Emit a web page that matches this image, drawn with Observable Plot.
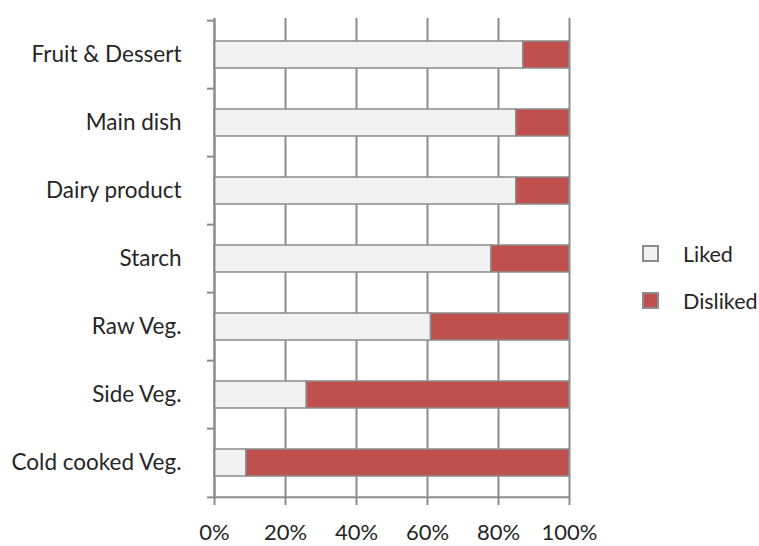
<!DOCTYPE html>
<html>
<head>
<meta charset="utf-8">
<script src="https://cdn.jsdelivr.net/npm/d3@7"></script>
<script src="https://cdn.jsdelivr.net/npm/@observablehq/plot@0.6"></script>
<style>
  html, body { margin: 0; padding: 0; background: #fff; }
  #wrap { position: relative; width: 759px; height: 546px; font-family: Lato, "Open Sans", sans-serif; }
  #legend { position: absolute; left: 642px; top: 230px; color: #262626; font-size: 21.5px; }
  .item { display: flex; align-items: center; height: 47px; }
  .sw { width: 13px; height: 13px; border: 2px solid #8c8c8c; box-sizing: content-box; margin-right: 24px; }
</style>
</head>
<body>
<div id="wrap"><div id="legend"></div></div>
<script>
const categories = ["Fruit & Dessert", "Main dish", "Dairy product", "Starch", "Raw Veg.", "Side Veg.", "Cold cooked Veg."];
const liked = [87, 85, 85, 78, 61, 26, 9];
const disliked = liked.map(v => 100 - v);
const seriesNames = ["Liked", "Disliked"];
const seriesColors = ["#f2f2f2", "#c0504d"];
const xTicks = [0, 20, 40, 60, 80, 100];

const data = [];
categories.forEach((c, i) => {
  data.push({category: c, series: "Liked", value: liked[i]});
  data.push({category: c, series: "Disliked", value: disliked[i]});
});

const W = 759, H = 546, mt = 18, mb = 47, ml = 214, mr = 190;
const step = (H - mt - mb) / categories.length;
const gray = "#8c8c8c";
const font = "Lato, 'Open Sans', sans-serif";

const chart = Plot.plot({
  width: W, height: H,
  marginTop: mt, marginBottom: mb, marginLeft: ml, marginRight: mr,
  style: {fontFamily: font, color: "#262626", background: "#fff", overflow: "visible"},
  x: {domain: [0, 100]},
  y: {domain: categories, paddingInner: 0.6, paddingOuter: 0.3},
  color: {domain: seriesNames, range: seriesColors},
  marks: [
    Plot.gridX(xTicks, {stroke: gray, strokeOpacity: 1, strokeWidth: 2}),
    Plot.ruleY([categories[categories.length - 1]], {stroke: gray, strokeWidth: 2, dy: step / 2, x1: 0, x2: 100}),
    Plot.axisX(xTicks, {tickSize: 6, stroke: gray, strokeWidth: 2, tickFormat: d => d + "%", fontSize: 22, tickPadding: 19, fill: "#262626", label: null}),
    Plot.axisY(categories, {tickSize: 7, stroke: gray, strokeWidth: 2, tickFormat: () => "", dy: -step / 2, label: null}),
    Plot.axisY([categories[categories.length - 1]], {tickSize: 7, stroke: gray, strokeWidth: 2, tickFormat: () => "", dy: step / 2, label: null}),
    Plot.axisY(categories, {tickSize: 0, tickPadding: 33, fontSize: 22.5, fill: "#262626", label: null}),
    Plot.barX(data, Plot.stackX({x: "value", y: "category", fill: "series", order: seriesNames, stroke: gray, strokeWidth: 1.5})),
    Plot.ruleX([0], {stroke: gray, strokeWidth: 2})
  ]
});
document.getElementById("wrap").prepend(chart);

const legend = document.getElementById("legend");
seriesNames.forEach((s, i) => {
  const it = document.createElement("div");
  it.className = "item";
  const sw = document.createElement("div");
  sw.className = "sw";
  sw.style.background = seriesColors[i];
  const t = document.createElement("span");
  t.textContent = s;
  it.append(sw, t);
  legend.append(it);
});
</script>
</body>
</html>
